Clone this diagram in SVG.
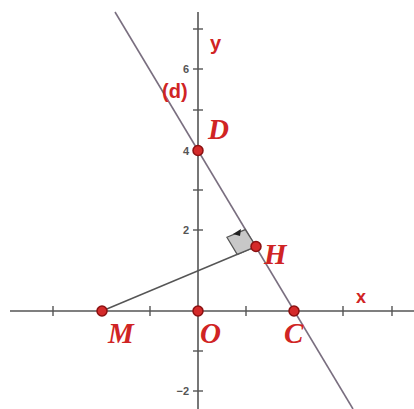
<svg xmlns="http://www.w3.org/2000/svg" width="414" height="409" viewBox="0 0 414 409">
<style>
.axis{stroke:#555;stroke-width:1.6;fill:none}
.tick{stroke:#555;stroke-width:1.4}
.tl{font-family:"Liberation Sans",Arial,sans-serif;font-size:11px;font-weight:bold;fill:#555}
.al{font-family:"Liberation Sans",Arial,sans-serif;font-weight:bold;fill:#d02424}
.pl{font-family:"Liberation Serif","Times New Roman",serif;font-style:italic;font-weight:bold;font-size:29px;fill:#d02424}
.pt{fill:#d42a2a;stroke:#8b1010;stroke-width:1.5}
</style>
<rect width="414" height="409" fill="#fff"/>
<g id="axes">
<line class="axis" x1="10" y1="311" x2="414" y2="311"/>
<line class="axis" x1="198" y1="12" x2="198" y2="409"/>
<g class="tick">
<line x1="53" y1="306" x2="53" y2="316"/>
<line x1="150" y1="306" x2="150" y2="316"/>
<line x1="246" y1="306" x2="246" y2="316"/>
<line x1="343" y1="306" x2="343" y2="316"/>
<line x1="392" y1="306" x2="392" y2="316"/>
<line x1="193" y1="29" x2="203" y2="29"/>
<line x1="193" y1="69" x2="203" y2="69"/>
<line x1="193" y1="110" x2="203" y2="110"/>
<line x1="193" y1="190" x2="203" y2="190"/>
<line x1="193" y1="230" x2="203" y2="230"/>
<line x1="193" y1="351" x2="203" y2="351"/>
<line x1="193" y1="391" x2="203" y2="391"/>
</g>
<text class="tl" x="189" y="73" text-anchor="end">6</text>
<text class="tl" x="189" y="155" text-anchor="end">4</text>
<text class="tl" x="189" y="234" text-anchor="end">2</text>
<text class="tl" x="189" y="395" text-anchor="end">−2</text>
<text class="al" x="210" y="50" font-size="20">y</text>
<text class="al" x="356" y="303" font-size="18">x</text>
</g>
<g id="connectors">
<line x1="115" y1="12" x2="353" y2="409" stroke="#7a6f80" stroke-width="1.6"/>
<line x1="102" y1="311" x2="256" y2="246.5" stroke="#555" stroke-width="1.4"/>
<polygon points="256,246.5 245.3,229.6 226.9,237.3 237.2,254.4" fill="#c8c8c8" stroke="#555" stroke-width="1.2"/>
<polygon points="233,234 241,229 240,236" fill="#222"/>
</g>
<g id="d-label"><text class="al" x="162" y="98" font-size="20">(d)</text></g>
<g id="D"><circle class="pt" cx="198" cy="150.5" r="5"/><text class="pl" x="208" y="139">D</text></g>
<g id="H"><circle class="pt" cx="256" cy="246.5" r="5"/><text class="pl" x="264" y="264">H</text></g>
<g id="M"><circle class="pt" cx="102" cy="311" r="5"/><text class="pl" x="108" y="343">M</text></g>
<g id="O"><circle class="pt" cx="198" cy="311" r="5"/><text class="pl" x="200" y="343">O</text></g>
<g id="C"><circle class="pt" cx="294" cy="311" r="5"/><text class="pl" x="284" y="343">C</text></g>
</svg>
